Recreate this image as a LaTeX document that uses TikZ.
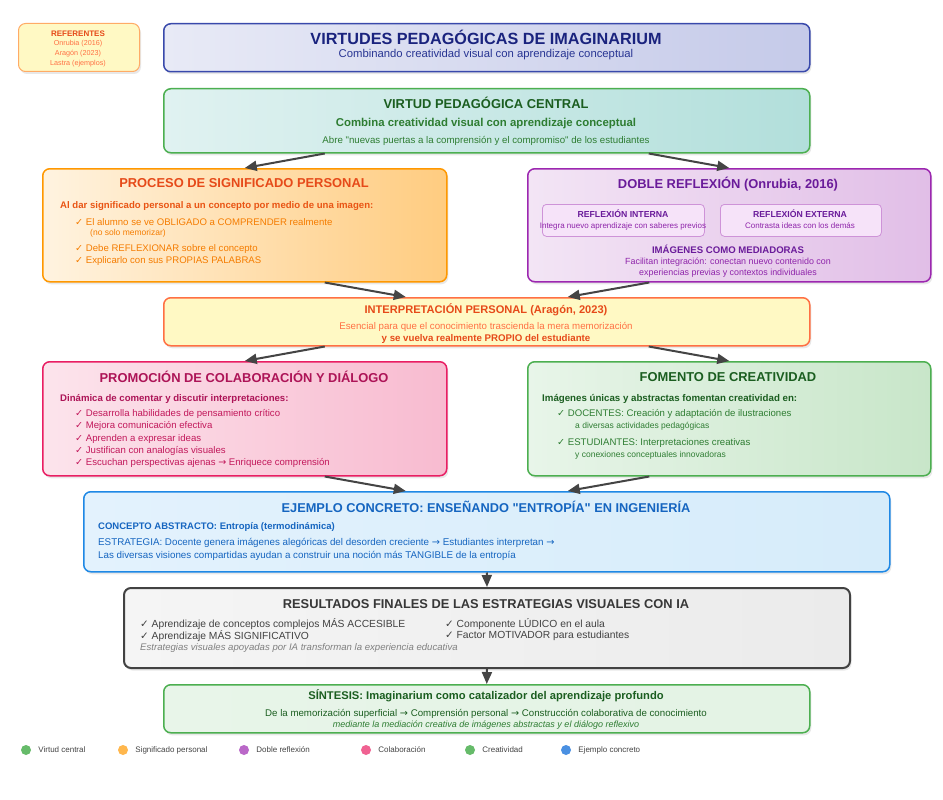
\documentclass[tikz,border=0pt]{standalone}
\usepackage{fontspec}
\setmainfont{Liberation Sans}[Ligatures=TeXOff]
\newfontfamily\simbolos{DejaVu Sans}
\usetikzlibrary{arrows.meta,shadows,positioning}

\definecolor{tinta}{HTML}{444444}
\definecolor{azulosc}{HTML}{1A237E}
\definecolor{azulsub}{HTML}{283593}
\definecolor{verdeosc}{HTML}{1B5E20}
\definecolor{verdemed}{HTML}{2E7D32}
\definecolor{naranjaosc}{HTML}{E64A19}
\definecolor{naranja}{HTML}{F57C00}
\definecolor{naranjaclaro}{HTML}{FF7043}
\definecolor{moradoosc}{HTML}{6A1B9A}
\definecolor{morado}{HTML}{8E24AA}
\definecolor{rosaosc}{HTML}{AD1457}
\definecolor{rosa}{HTML}{C2185B}
\definecolor{azulmed}{HTML}{1565C0}
\definecolor{grisosc}{HTML}{212121}
% rellenos y bordes
\definecolor{tituloA}{HTML}{E8EAF6}
\definecolor{tituloB}{HTML}{C5CAE9}
\definecolor{tituloL}{HTML}{3949AB}
\definecolor{centralA}{HTML}{E0F2F1}
\definecolor{centralB}{HTML}{B2DFDB}
\definecolor{verdeL}{HTML}{4CAF50}
\definecolor{procesoA}{HTML}{FFF3E0}
\definecolor{procesoB}{HTML}{FFCC80}
\definecolor{procesoL}{HTML}{FF9800}
\definecolor{dobleA}{HTML}{F3E5F5}
\definecolor{dobleB}{HTML}{E1BEE7}
\definecolor{dobleL}{HTML}{9C27B0}
\definecolor{subA}{HTML}{F6E3F9}
\definecolor{subL}{HTML}{CE93D8}
\definecolor{amarillo}{HTML}{FFF9C4}
\definecolor{promoA}{HTML}{FCE4EC}
\definecolor{promoB}{HTML}{F8BBD0}
\definecolor{promoL}{HTML}{E91E63}
\definecolor{fomentoA}{HTML}{E8F5E9}
\definecolor{fomentoB}{HTML}{C8E6C9}
\definecolor{ejemploA}{HTML}{E3F2FD}
\definecolor{ejemploB}{HTML}{D6ECFA}
\definecolor{ejemploL}{HTML}{1E88E5}
\definecolor{resultA}{HTML}{F5F5F5}
\definecolor{resultB}{HTML}{EBEBEB}
\definecolor{resultL}{HTML}{424242}
\definecolor{refL}{HTML}{FFAB66}
% leyenda
\definecolor{leyVerde}{HTML}{66BB6A}
\definecolor{leyNaranja}{HTML}{FFB74D}
\definecolor{leyMorado}{HTML}{BA68C8}
\definecolor{leyRosa}{HTML}{F06292}
\definecolor{leyAzul}{HTML}{4A90E2}

\newcommand{\tam}[1]{\fontsize{#1}{#1}\selectfont}
\newcommand{\chk}{{\simbolos ✓}}
\newcommand{\fle}{{\simbolos →}}

\begin{document}
\begin{tikzpicture}[x=1pt,y=-1pt,
    caja/.style={draw, rounded corners=7pt, line width=1.5pt, anchor=north west, inner sep=0pt,
        drop shadow={opacity=0.18, shadow xshift=1.5pt, shadow yshift=-2.5pt}},
    subcaja/.style={draw=subL, fill=subA, rounded corners=4pt, line width=0.8pt, anchor=north west, inner sep=0pt},
    txt/.style={inner sep=0pt, align=center},
    izq/.style={inner sep=0pt, anchor=west},
    flecha/.style={draw=tinta, line width=2pt, -{Triangle[length=12pt,width=10pt]}},
    punto/.style={circle, inner sep=0pt, minimum size=10pt},
    leyenda/.style={inner sep=0pt, font=\tam{8}, text=tinta}]

    \fill[white] (0,0) rectangle (943,800);
    \useasboundingbox (0,0) rectangle (943,800);

    % referentes
    \node[caja, draw=refL, fill=amarillo, line width=1pt, minimum width=121pt, minimum height=48pt,
        drop shadow={opacity=0}] (ref) at (18,23) {};
    \node[txt, text=naranjaosc, font=\tam{8}\bfseries] (refT) at (78,34) {REFERENTES};
    \node[txt, text=naranjaclaro, font=\tam{7.2}] (ref1) at (78,44) {Onrubia (2016)};
    \node[txt, text=naranjaclaro, font=\tam{7.2}] (ref2) at (78,54) {Aragón (2023)};
    \node[txt, text=naranjaclaro, font=\tam{7.2}] (ref3) at (78,64) {Lastra (ejemplos)};

    % titulo
    \node[caja, draw=tituloL, left color=tituloA, right color=tituloB, minimum width=646pt, minimum height=48pt] (titulo) at (163,23) {};
    \node[txt, text=azulosc, font=\tam{16.2}\bfseries] (tituloT) at (486,37) {VIRTUDES PEDAGÓGICAS DE IMAGINARIUM};
    \node[txt, text=azulsub, font=\tam{11.3}] (tituloS) at (486,55) {Combinando creatividad visual con aprendizaje conceptual};

    % virtud central
    \node[caja, draw=verdeL, left color=centralA, right color=centralB, minimum width=646pt, minimum height=64pt] (central) at (163,88) {};
    \node[txt, text=verdeosc, font=\tam{12.9}\bfseries] (centralT) at (486,103) {VIRTUD PEDAGÓGICA CENTRAL};
    \node[txt, text=verdemed, font=\tam{11.4}\bfseries] (central1) at (486,124) {Combina creatividad visual con aprendizaje conceptual};
    \node[txt, text=verdemed, font=\tam{9.7}] (central2) at (486,141) {Abre "nuevas puertas a la comprensión y el compromiso" de los estudiantes};

    % proceso de significado personal
    \node[caja, draw=procesoL, left color=procesoA, right color=procesoB, minimum width=404pt, minimum height=113pt] (proceso) at (42,168) {};
    \node[txt, text=naranjaosc, font=\tam{12.9}\bfseries] (procesoT) at (244,183) {PROCESO DE SIGNIFICADO PERSONAL};
    \node[izq, text=naranjaosc!80!naranja, font=\tam{9.6}\bfseries] (proceso0) at (60,206) {Al dar significado personal a un concepto por medio de una imagen:};
    \node[izq, text=naranja, font=\tam{9.6}] (proceso1) at (75,222) {\chk{} El alumno se ve OBLIGADO a COMPRENDER realmente};
    \node[izq, text=naranja, font=\tam{8.5}] (proceso1b) at (90,233) {(no solo memorizar)};
    \node[izq, text=naranja, font=\tam{9.6}] (proceso2) at (75,249) {\chk{} Debe REFLEXIONAR sobre el concepto};
    \node[izq, text=naranja, font=\tam{9.6}] (proceso3) at (75,261) {\chk{} Explicarlo con sus PROPIAS PALABRAS};

    % doble reflexion
    \node[caja, draw=dobleL, left color=dobleA, right color=dobleB, minimum width=403pt, minimum height=113pt] (doble) at (527,168) {};
    \node[txt, text=moradoosc, font=\tam{12.9}\bfseries] (dobleT) at (728,184) {DOBLE REFLEXIÓN (Onrubia, 2016)};
    \node[subcaja, minimum width=162pt, minimum height=32pt] (interna) at (542,204) {};
    \node[txt, text=moradoosc, font=\tam{8.7}\bfseries] (internaT) at (623,214) {REFLEXIÓN INTERNA};
    \node[txt, text=morado, font=\tam{8}] (internaS) at (623,226) {Integra nuevo aprendizaje con saberes previos};
    \node[subcaja, minimum width=161pt, minimum height=32pt] (externa) at (720,204) {};
    \node[txt, text=moradoosc, font=\tam{8.7}\bfseries] (externaT) at (800,214) {REFLEXIÓN EXTERNA};
    \node[txt, text=morado, font=\tam{8}] (externaS) at (800,226) {Contrasta ideas con los demás};
    \node[txt, text=moradoosc, font=\tam{9.6}\bfseries] (mediaT) at (728,249) {IMÁGENES COMO MEDIADORAS};
    \node[txt, text=morado, font=\tam{8.9}] (media1) at (728,262) {Facilitan integración: conectan nuevo contenido con};
    \node[txt, text=morado, font=\tam{8.9}] (media2) at (728,273) {experiencias previas y contextos individuales};

    % interpretacion personal
    \node[caja, draw=naranjaclaro, fill=amarillo, minimum width=646pt, minimum height=48pt] (interp) at (163,297) {};
    \node[txt, text=naranjaosc, font=\tam{11.1}\bfseries] (interpT) at (486,310) {INTERPRETACIÓN PERSONAL (Aragón, 2023)};
    \node[txt, text=naranjaclaro, font=\tam{9.7}] (interp1) at (486,327) {Esencial para que el conocimiento trascienda la mera memorización};
    \node[txt, text=naranjaosc, font=\tam{9.7}\bfseries] (interp2) at (486,339) {y se vuelva realmente PROPIO del estudiante};

    % colaboracion y dialogo
    \node[caja, draw=promoL, left color=promoA, right color=promoB, minimum width=404pt, minimum height=114pt] (promo) at (42,361) {};
    \node[txt, text=rosaosc, font=\tam{12.9}\bfseries] (promoT) at (244,377) {PROMOCIÓN DE COLABORACIÓN Y DIÁLOGO};
    \node[izq, text=rosaosc, font=\tam{9.6}\bfseries] (promo0) at (60,399) {Dinámica de comentar y discutir interpretaciones:};
    \node[izq, text=rosa, font=\tam{9.6}] (promo1) at (75,414) {\chk{} Desarrolla habilidades de pensamiento crítico};
    \node[izq, text=rosa, font=\tam{9.6}] (promo2) at (75,426) {\chk{} Mejora comunicación efectiva};
    \node[izq, text=rosa, font=\tam{9.6}] (promo3) at (75,439) {\chk{} Aprenden a expresar ideas};
    \node[izq, text=rosa, font=\tam{9.6}] (promo4) at (75,451) {\chk{} Justifican con analogías visuales};
    \node[izq, text=rosa, font=\tam{9.6}] (promo5) at (75,463) {\chk{} Escuchan perspectivas ajenas \fle{} Enriquece comprensión};

    % fomento de creatividad
    \node[caja, draw=verdeL, left color=fomentoA, right color=fomentoB, minimum width=403pt, minimum height=114pt] (fomento) at (527,361) {};
    \node[txt, text=verdeosc, font=\tam{12.9}\bfseries] (fomentoT) at (728,377) {FOMENTO DE CREATIVIDAD};
    \node[izq, text=verdeosc, font=\tam{9.7}\bfseries] (fomento0) at (542,399) {Imágenes únicas y abstractas fomentan creatividad en:};
    \node[izq, text=verdemed, font=\tam{9.6}] (fomento1) at (557,414) {\chk{} DOCENTES: Creación y adaptación de ilustraciones};
    \node[izq, text=verdemed, font=\tam{8.5}] (fomento1b) at (575,426) {a diversas actividades pedagógicas};
    \node[izq, text=verdemed, font=\tam{9.6}] (fomento2) at (557,443) {\chk{} ESTUDIANTES: Interpretaciones creativas};
    \node[izq, text=verdemed, font=\tam{8.5}] (fomento2b) at (575,455) {y conexiones conceptuales innovadoras};

    % ejemplo concreto
    \node[caja, draw=ejemploL, left color=ejemploA, right color=ejemploB, minimum width=806pt, minimum height=80pt] (ejemplo) at (83,491) {};
    \node[txt, text=azulmed, font=\tam{12.8}\bfseries] (ejemploT) at (486,507) {EJEMPLO CONCRETO: ENSEÑANDO "ENTROPÍA" EN INGENIERÍA};
    \node[izq, text=azulmed, font=\tam{9.5}\bfseries] (ejemplo0) at (98,527) {CONCEPTO ABSTRACTO: Entropía (termodinámica)};
    \node[izq, text=azulmed, font=\tam{9.8}] (ejemplo1) at (98,543) {ESTRATEGIA: Docente genera imágenes alegóricas del desorden creciente \fle{} Estudiantes interpretan \fle};
    \node[izq, text=azulmed, font=\tam{9.8}] (ejemplo2) at (98,556) {Las diversas visiones compartidas ayudan a construir una noción más TANGIBLE de la entropía};

    % resultados finales
    \node[caja, draw=resultL, line width=2pt, left color=resultA, right color=resultB, minimum width=726pt, minimum height=80pt] (result) at (123,587) {};
    \node[txt, text=grisosc!90, font=\tam{12.85}\bfseries] (resultT) at (486,604) {RESULTADOS FINALES DE LAS ESTRATEGIAS VISUALES CON IA};
    \node[izq, text=grisosc!85, font=\tam{10.3}] (result1) at (140,624) {\chk{} Aprendizaje de conceptos complejos MÁS ACCESIBLE};
    \node[izq, text=grisosc!85, font=\tam{10.3}] (result2) at (140,636) {\chk{} Aprendizaje MÁS SIGNIFICATIVO};
    \node[izq, text=grisosc!85, font=\tam{10.3}] (result3) at (445,624) {\chk{} Componente LÚDICO en el aula};
    \node[izq, text=grisosc!85, font=\tam{10.3}] (result4) at (445,636) {\chk{} Factor MOTIVADOR para estudiantes};
    \node[izq, text=gray, font=\tam{9.6}\itshape] (result5) at (140,648) {Estrategias visuales apoyadas por IA transforman la experiencia educativa};

    % sintesis
    \node[caja, draw=verdeL, left color=fomentoA, right color=fomentoA!85!fomentoB, minimum width=646pt, minimum height=48pt] (sintesis) at (163,684) {};
    \node[txt, text=verdeosc, font=\tam{11.2}\bfseries] (sintesisT) at (486,696) {SÍNTESIS: Imaginarium como catalizador del aprendizaje profundo};
    \node[txt, text=verdeosc, font=\tam{9.7}] (sintesis1) at (486,714) {De la memorización superficial \fle{} Comprensión personal \fle{} Construcción colaborativa de conocimiento};
    \node[txt, text=verdemed, font=\tam{9}\itshape] (sintesis2) at (486,725) {mediante la mediación creativa de imágenes abstractas y el diálogo reflexivo};

    % conexiones
    \draw[flecha] ([xshift=-162pt]central.south) -- (proceso.north);
    \draw[flecha] ([xshift=162pt]central.south) -- (doble.north);
    \draw[flecha] ([xshift=80pt]proceso.south) -- ([xshift=-81pt]interp.north);
    \draw[flecha] ([xshift=-80pt]doble.south) -- ([xshift=81pt]interp.north);
    \draw[flecha] ([xshift=-162pt]interp.south) -- (promo.north);
    \draw[flecha] ([xshift=162pt]interp.south) -- (fomento.north);
    \draw[flecha] ([xshift=80pt]promo.south) -- ([xshift=-81pt]ejemplo.north);
    \draw[flecha] ([xshift=-80pt]fomento.south) -- ([xshift=81pt]ejemplo.north);
    \draw[flecha] (ejemplo.south) -- (result.north);
    \draw[flecha] (result.south) -- (sintesis.north);

    % leyenda
    \node[punto, fill=leyVerde] (ley1) at (26,750) {};
    \node[leyenda, right=7pt of ley1] (ley1T) {Virtud central};
    \node[punto, fill=leyNaranja] (ley2) at (123,750) {};
    \node[leyenda, right=7pt of ley2] (ley2T) {Significado personal};
    \node[punto, fill=leyMorado] (ley3) at (244,750) {};
    \node[leyenda, right=7pt of ley3] (ley3T) {Doble reflexión};
    \node[punto, fill=leyRosa] (ley4) at (366,750) {};
    \node[leyenda, right=7pt of ley4] (ley4T) {Colaboración};
    \node[punto, fill=leyVerde] (ley5) at (470,750) {};
    \node[leyenda, right=7pt of ley5] (ley5T) {Creatividad};
    \node[punto, fill=leyAzul] (ley6) at (566,750) {};
    \node[leyenda, right=7pt of ley6] (ley6T) {Ejemplo concreto};
\end{tikzpicture}
\end{document}
